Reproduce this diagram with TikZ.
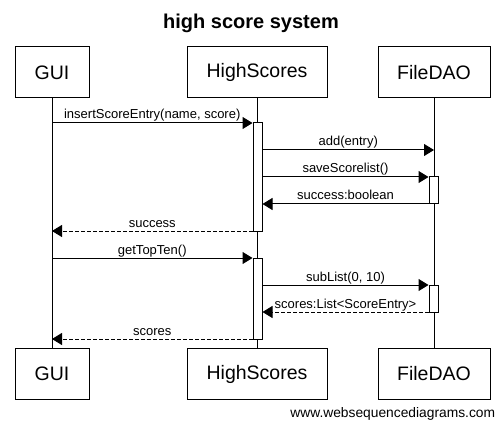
\documentclass[tikz,border=0pt]{standalone}
\usepackage{fontspec}
\setmainfont{Liberation Sans}
\usetikzlibrary{arrows.meta}

\begin{document}
\begin{tikzpicture}[x=1pt,y=-1pt,line width=1pt,
  actor/.style={draw,fill=white,minimum height=51pt,inner sep=0pt,font=\fontsize{19.5}{23}\selectfont},
  actbox/.style={draw,fill=white,minimum width=9pt,inner sep=0pt},
  msg/.style={-{Triangle[length=10pt,width=12pt]}},
  reply/.style={msg,dash pattern=on 4pt off 2pt},
  lbl/.style={anchor=base,yshift=4pt,inner sep=0pt,font=\fontsize{13}{15}\selectfont}]
\useasboundingbox (0,0) rectangle (503,422);
\node [anchor=base,font=\bfseries\fontsize{20}{24}\selectfont] (title) at (251,29) {high score system};
\node [anchor=base east,font=\fontsize{13.8}{16}\selectfont] (site) at (499,417) {www.websequencediagrams.com};
% participants
\node [actor,minimum width=74pt] (guiT) at (52,72.5) {GUI};
\node [actor,minimum width=140pt] (hsT) at (257,72.5) {HighScores};
\node [actor,minimum width=112pt] (fdT) at (434,72.5) {FileDAO};
\node [actor,minimum width=74pt] (guiB) at (52,374) {GUI};
\node [actor,minimum width=140pt] (hsB) at (257,374) {HighScores};
\node [actor,minimum width=112pt] (fdB) at (434,374) {FileDAO};
\draw (guiT) -- (guiB);
\draw (hsT) -- (hsB);
\draw (fdT) -- (fdB);
% rows
\coordinate (r1) at (0,123);
\coordinate (r2) at (0,150);
\coordinate (r3) at (0,177);
\coordinate (r4) at (0,204);
\coordinate (r5) at (0,231);
\coordinate (r6) at (0,258);
\coordinate (r7) at (0,285);
\coordinate (r8) at (0,312);
\coordinate (r9) at (0,339);
% activations
\node [actbox,minimum height=108pt] (hs1) at (257.5,177) {};
\node [actbox,minimum height=81pt] (hs2) at (257.5,298.5) {};
\node [actbox,minimum height=27pt] (fd1) at (433.5,190.5) {};
\node [actbox,minimum height=27pt] (fd2) at (433.5,298.5) {};
% messages
\draw [msg] (guiT |- r1) -- node [lbl] {insertScoreEntry(name, score)} (hs1.west |- r1);
\draw [msg] (hs1.east |- r2) -- node [lbl] {add(entry)} (fdT |- r2);
\draw [msg] (hs1.east |- r3) -- node [lbl] {saveScorelist()} (fd1.west |- r3);
\draw [msg] (fd1.west |- r4) -- node [lbl] {success:boolean} (hs1.east |- r4);
\draw [reply] (hs1.west |- r5) -- node [lbl] {success} (guiT |- r5);
\draw [msg] (guiT |- r6) -- node [lbl] {getTopTen()} (hs2.west |- r6);
\draw [msg] (hs2.east |- r7) -- node [lbl] {subList(0, 10)} (fd2.west |- r7);
\draw [reply] (fd2.west |- r8) -- node [lbl] {scores:List<ScoreEntry>} (hs2.east |- r8);
\draw [reply] (hs2.west |- r9) -- node [lbl] {scores} (guiT |- r9);
\end{tikzpicture}
\end{document}
